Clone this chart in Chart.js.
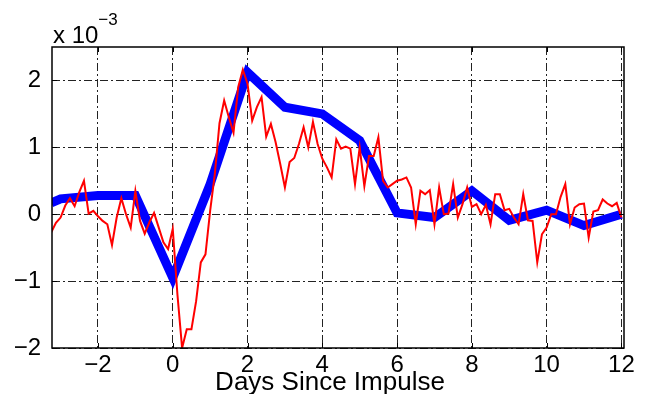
<!DOCTYPE html>
<html>
<head>
<meta charset="utf-8">
<script src="https://cdn.jsdelivr.net/npm/chart.js@4"></script>
<style>
  html, body { margin: 0; padding: 0; background: #fff; }
  #wrap { width: 651px; height: 394px; position: relative; }
</style>
</head>
<body>
<div id="wrap"><canvas id="chart"></canvas></div>
<script>
// red series: sampled every 1/8 day starting at day -3.25 (values x 1e-3)
const RED_START = -3.25;
const RED_STEP = 0.125;
const redValues = [
    -0.27, -0.13, -0.05, 0.13, 0.24, 0.12, 0.33, 0.50,
    0.01, 0.05, -0.03, -0.10, -0.15, -0.46, -0.05, 0.24,
    0.00, -0.20, 0.35, -0.10, -0.29, -0.12, 0.02, -0.20,
    -0.42, -0.52, -0.22, -1.20, -2.00, -1.72, -1.72, -1.30,
    -0.72, -0.60, 0.05, 0.60, 1.36, 1.70, 1.45, 1.22,
    1.90, 2.16, 1.95, 1.40, 1.60, 1.75, 1.16, 1.35,
    1.08, 0.75, 0.40, 0.78, 0.84, 1.05, 1.30, 1.00,
    1.38, 1.05, 0.83, 0.70, 0.55, 1.12, 0.98, 1.01,
    0.98, 0.45, 1.00, 0.42, 0.87, 0.87, 1.15, 0.50,
    0.40, 0.45, 0.50, 0.52, 0.55, 0.40, -0.15, 0.35,
    0.30, 0.36, -0.15, 0.40, 0.00, 0.01, 0.45, -0.05,
    0.15, 0.40, 0.11, 0.15, 0.00, 0.14, -0.15, 0.30,
    0.30, 0.06, 0.08, -0.05, -0.15, 0.30, -0.09, -0.10,
    -0.72, -0.30, -0.20, 0.00, 0.00, 0.26, 0.45, -0.15,
    0.10, 0.15, 0.16, -0.35, 0.04, 0.06, 0.22, 0.16,
    0.12, 0.17, -0.05
];

// blue series: daily values
const blueDays = [-3.25, -3, -2, -1, 0, 1, 2, 3, 4, 5, 6, 7, 8, 9, 10, 11, 12];
const blueValues = [0.17, 0.23, 0.28, 0.28, -0.95, 0.45, 2.12, 1.60, 1.50, 1.10, 0.02, -0.05, 0.35, -0.09, 0.06, -0.17, 0.00];

const xTicks = [-2, 0, 2, 4, 6, 8, 10, 12];
const yTicks = [-2, -1, 0, 1, 2];
const xLabel = 'Days Since Impulse';
const FONT = "'Liberation Sans', Arial, sans-serif";

const redPoints = redValues.map((v, i) => ({ x: RED_START + i * RED_STEP, y: v }));
const bluePoints = blueDays.map((d, i) => ({ x: d, y: blueValues[i] }));

function minusSign(v) {
    return String(v).replace('-', '\u2212');
}

 // frame box, inward ticks, the exponent label and the x axis label
const axesBox = {
    id: 'axesBox',
    afterDatasetsDraw(chart) {
        const ctx = chart.ctx;
        const a = chart.chartArea;
        const xs = chart.scales.x;
        const ys = chart.scales.y;
        ctx.save();
        ctx.strokeStyle = '#000';
        ctx.lineWidth = 1;
        xTicks.forEach(v => {
            const px = Math.round(xs.getPixelForValue(v)) + 0.5;
            ctx.beginPath();
            ctx.moveTo(px, a.bottom); ctx.lineTo(px, a.bottom - 5);
            ctx.moveTo(px, a.top); ctx.lineTo(px, a.top + 5);
            ctx.stroke();
        });
        yTicks.forEach(v => {
            const py = Math.round(ys.getPixelForValue(v)) + 0.5;
            ctx.beginPath();
            ctx.moveTo(a.left, py); ctx.lineTo(a.left + 5, py);
            ctx.moveTo(a.right, py); ctx.lineTo(a.right - 5, py);
            ctx.stroke();
        });
        ctx.lineWidth = 1.5;
        ctx.strokeRect(a.left, a.top, a.right - a.left, a.bottom - a.top);

        ctx.fillStyle = '#000';
        ctx.textBaseline = 'alphabetic';
        ctx.textAlign = 'left';
        ctx.font = '24px ' + FONT;
        const base = 'x 10';
        ctx.fillText(base, a.left + 1, a.top - 4);
        const w = ctx.measureText(base).width;
        ctx.font = '17px ' + FONT;
        ctx.fillText('\u22123', a.left + 1 + w, a.top - 22);

        ctx.font = '26px ' + FONT;
        ctx.textAlign = 'center';
        ctx.fillText(xLabel, (a.left + a.right) / 2 - 8, a.bottom + 42);
        ctx.restore();
    }
};

const ctx = document.getElementById('chart').getContext('2d');
new Chart(ctx, {
    type: 'line',
    data: {
        datasets: [
            {
                data: redPoints,
                borderColor: '#ff0000',
                borderWidth: 2,
                pointRadius: 0,
                tension: 0,
                clip: 0
            },
            {
                data: bluePoints,
                borderColor: '#0000ff',
                borderWidth: 9,
                pointRadius: 0,
                tension: 0,
                borderJoinStyle: 'miter',
                clip: 0
            }
        ]
    },
    options: {
        responsive: true,
        maintainAspectRatio: false,
        animation: false,
        devicePixelRatio: 1,
        layout: { padding: { left: 0, top: 47, right: 27, bottom: 0 } },
        plugins: {
            legend: { display: false },
            tooltip: { enabled: false }
        },
        scales: {
            x: {
                type: 'linear',
                min: -3.23,
                max: 12.07,
                afterBuildTicks: s => { s.ticks = xTicks.map(v => ({ value: v })); },
                afterFit: s => { s.height = 46; },
                grid: { color: '#222', lineWidth: 1, drawTicks: false },
                border: { display: false, dash: [8, 3, 2, 3] },
                ticks: {
                    font: { family: FONT, size: 24 },
                    color: '#000',
                    padding: 3,
                    maxRotation: 0,
                    autoSkip: false,
                    callback: v => minusSign(v)
                }
            },
            y: {
                min: -2,
                max: 2.5,
                afterBuildTicks: s => { s.ticks = yTicks.map(v => ({ value: v })); },
                afterFit: s => { s.width = 52; },
                grid: { color: '#222', lineWidth: 1, drawTicks: false },
                border: { display: false, dash: [8, 3, 2, 3] },
                ticks: {
                    font: { family: FONT, size: 24 },
                    color: '#000',
                    padding: 11,
                    callback: v => minusSign(v)
                }
            }
        }
    },
    plugins: [axesBox]
});
</script>
</body>
</html>
